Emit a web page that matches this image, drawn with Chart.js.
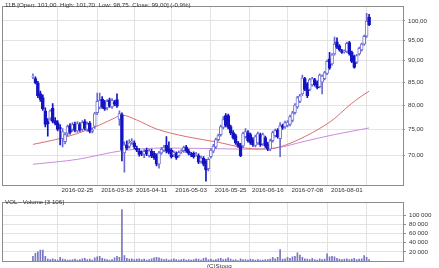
<!DOCTYPE html>
<html>
<head>
<meta charset="utf-8">
<script src="https://cdn.jsdelivr.net/npm/chart.js@4/dist/chart.umd.min.js"></script>
<style>
  body { margin: 0; background: #fff; width: 439px; height: 268px; overflow: hidden; position: relative; }
  canvas { position: absolute; left: 0; }
  .lbl { position: absolute; font: 6.2px "Liberation Sans", Arial, sans-serif; color: #333; white-space: pre; line-height: 8px; }
</style>
</head>
<body>
<canvas id="price" width="439" height="197" style="top:0"></canvas>
<canvas id="volume" width="439" height="72" style="top:196px"></canvas>
<div class="lbl" style="left:5px;top:1px">11B [Open: 101,00  High: 101,70  Low: 98,75  Close: 99,00] (-0,9%)</div>
<div class="lbl" style="left:5px;top:198px">VOL - Volume [3 106]</div>
<div class="lbl" style="left:207px;top:262px">(C)Stooq</div>
<script>
// trading days Feb 1 - Aug 12 2016 (weekdays, exchange holidays removed)
const holidays = ['2016-03-25', '2016-03-28', '2016-05-26'];
const dates = [];
for (let d = new Date(Date.UTC(2016, 1, 1)); d <= new Date(Date.UTC(2016, 7, 12)); d.setUTCDate(d.getUTCDate() + 1)) {
    const s = d.toISOString().slice(0, 10);
    if (d.getUTCDay() !== 0 && d.getUTCDay() !== 6 && !holidays.includes(s)) dates.push(s);
}
const tickDates = ['2016-02-25', '2016-03-18', '2016-04-11', '2016-05-03', '2016-05-25', '2016-06-16', '2016-07-08', '2016-08-01'];
const priceTicks = [70, 75, 80, 85, 90, 95, 100];
const volumeTicks = [20000, 40000, 60000, 80000, 100000];

const open = [
  86.2, 85.8, 84.8, 82.5, 81.6, 78.8, 76.6, 77.3, 79.3, 76.8,
  76.4, 75.4, 73.2, 72.6, 74.2, 75.8, 75.0, 76.1, 74.7, 76.0,
  75.0, 76.6, 75.0, 76.3, 74.6, 75.6, 78.4, 79.5, 81.3, 80.6,
  79.4, 81.1, 79.6, 80.7, 81.2, 77.0, 78.0, 70.5, 72.0, 71.7,
  72.5, 72.4, 71.4, 70.9, 70.5, 70.2, 71.0, 70.0, 70.8, 70.4,
  70.0, 68.4, 70.5, 71.0, 71.9, 71.3, 71.0, 70.1, 70.4, 70.0,
  70.7, 70.9, 71.6, 70.9, 70.3, 70.4, 70.1, 70.0, 68.9, 69.5,
  69.0, 67.6, 69.8, 70.8, 71.6, 73.0, 74.0, 75.4, 77.8, 77.8,
  75.6, 74.4, 73.8, 72.4, 72.0, 71.8, 73.6, 74.4, 74.0, 73.0,
  71.9, 72.4, 74.0, 72.2, 73.4, 72.2, 71.2, 72.8, 73.8, 74.9,
  73.2, 75.8, 75.5, 75.8, 76.0, 76.8, 78.4, 79.6, 80.8, 82.4,
  85.8, 84.6, 83.4, 84.4, 85.6, 85.0, 84.0, 85.0, 85.8, 87.0,
  90.4, 89.2, 91.6, 94.6, 93.6, 92.4, 92.1, 92.2, 94.4, 92.0,
  91.0, 89.6, 91.6, 92.6, 94.0, 96.0, 101.0
];
const high = [
  86.9, 86.2, 85.2, 83.0, 82.2, 79.4, 77.2, 79.0, 80.3, 77.4,
  76.8, 76.0, 75.2, 74.4, 75.9, 76.2, 76.4, 76.5, 76.6, 76.4,
  76.8, 77.0, 76.5, 76.6, 75.3, 78.5, 82.6, 82.6, 81.8, 81.0,
  81.2, 81.5, 81.4, 81.0, 82.4, 78.8, 78.4, 72.6, 72.8, 73.0,
  73.2, 72.8, 71.8, 71.3, 70.9, 71.1, 71.4, 71.2, 71.2, 70.8,
  70.3, 70.8, 71.5, 71.9, 73.6, 72.6, 71.3, 70.9, 70.7, 70.9,
  71.1, 71.8, 71.9, 71.2, 70.6, 70.7, 70.6, 70.3, 69.9, 69.8,
  69.3, 69.6, 71.3, 72.1, 73.3, 74.1, 75.9, 77.6, 78.2, 78.1,
  75.9, 74.8, 74.1, 72.7, 72.3, 74.5, 75.2, 74.8, 74.3, 73.4,
  73.9, 74.5, 74.3, 74.3, 73.7, 72.5, 73.1, 74.7, 75.1, 75.2,
  76.4, 76.1, 76.7, 76.8, 77.9, 78.7, 80.3, 81.9, 82.3, 86.6,
  86.1, 84.9, 85.9, 86.1, 85.9, 85.3, 86.9, 86.7, 87.5, 90.1,
  92.0, 91.7, 95.8, 95.6, 93.9, 92.7, 92.6, 94.5, 94.7, 92.3,
  91.3, 91.5, 93.3, 94.3, 96.3, 102.0, 101.7
];
const low = [
  85.8, 84.6, 81.6, 80.8, 78.9, 75.5, 73.7, 76.8, 76.3, 75.9,
  74.7, 72.0, 71.6, 72.2, 73.8, 74.1, 74.6, 74.5, 74.4, 74.6,
  74.7, 74.9, 74.6, 74.3, 74.3, 75.2, 78.0, 79.2, 79.3, 78.9,
  79.0, 79.5, 79.3, 79.9, 79.5, 75.8, 69.0, 67.0, 71.1, 71.4,
  72.1, 71.3, 70.7, 69.9, 70.0, 69.6, 70.0, 69.7, 69.6, 69.3,
  68.1, 67.7, 70.2, 70.7, 70.5, 70.3, 69.5, 69.8, 69.3, 69.7,
  70.4, 70.6, 70.6, 70.1, 69.8, 69.5, 69.9, 68.5, 68.6, 68.1,
  65.4, 67.2, 69.5, 70.5, 71.3, 72.7, 73.7, 75.1, 75.5, 75.1,
  74.0, 73.1, 72.1, 71.5, 69.8, 71.5, 73.3, 72.5, 72.1, 71.7,
  71.6, 72.1, 71.7, 71.9, 71.5, 70.9, 70.9, 72.5, 73.5, 73.3,
  69.8, 75.0, 75.2, 75.5, 75.7, 76.5, 78.1, 79.3, 80.5, 82.1,
  83.1, 81.6, 83.1, 84.1, 84.1, 83.5, 83.7, 82.4, 85.5, 86.7,
  87.9, 88.9, 91.3, 92.9, 92.3, 91.7, 91.8, 91.9, 91.3, 89.5,
  88.2, 89.3, 91.3, 92.3, 93.7, 95.7, 98.75
];
const close = [
  86.3, 84.9, 82.0, 81.2, 79.2, 76.0, 76.1, 78.8, 76.6, 76.2,
  75.0, 75.2, 74.6, 74.0, 75.6, 74.4, 76.0, 74.8, 76.2, 74.9,
  76.4, 75.2, 76.1, 74.6, 74.9, 78.2, 80.8, 81.0, 79.6, 79.2,
  80.8, 79.8, 81.0, 80.2, 79.8, 78.2, 71.0, 72.0, 71.4, 72.4,
  72.7, 71.6, 71.0, 70.2, 70.4, 70.8, 70.3, 70.9, 69.9, 69.6,
  68.4, 70.5, 71.2, 71.6, 70.8, 70.6, 69.8, 70.6, 69.6, 70.6,
  70.8, 71.5, 70.9, 70.4, 70.1, 69.8, 70.2, 68.8, 69.6, 68.4,
  67.4, 69.3, 71.0, 71.8, 73.0, 73.8, 75.6, 77.0, 75.8, 75.4,
  74.3, 73.4, 72.4, 71.8, 70.0, 74.2, 74.6, 72.8, 72.4, 72.0,
  73.6, 74.2, 72.0, 74.0, 71.8, 71.2, 72.8, 74.4, 74.8, 73.6,
  75.8, 75.4, 76.4, 76.5, 77.6, 78.4, 80.0, 81.6, 82.0, 86.0,
  83.4, 82.0, 85.6, 85.8, 84.4, 83.8, 86.6, 86.4, 87.2, 89.8,
  88.2, 91.4, 94.0, 93.2, 92.6, 92.0, 92.3, 94.2, 91.6, 89.8,
  88.4, 91.2, 93.0, 94.0, 96.0, 99.9, 99.0
];
const volume = [
  10000, 17000, 20000, 24000, 24000, 10000, 4000, 3000, 5000, 3000,
  2000, 8000, 4000, 3000, 2000, 2000, 3000, 4000, 2000, 3000,
  5000, 6000, 3000, 4000, 2000, 7000, 9000, 10000, 6000, 4000,
  3000, 2000, 3000, 7000, 10000, 8000, 113000, 12000, 6000, 4000,
  5000, 3000, 4000, 5000, 3000, 4000, 2000, 3000, 5000, 7000,
  8000, 7000, 5000, 3000, 4000, 2000, 3000, 5000, 3000, 2000,
  3000, 4000, 2000, 3000, 2000, 3000, 5000, 4000, 2000, 6000,
  7000, 3000, 4000, 2000, 3000, 5000, 6000, 3000, 4000, 7000,
  4000, 2000, 3000, 1000, 5000, 3000, 3000, 2000, 4000, 3000,
  2000, 3000, 2000, 2000, 3000, 3000, 4000, 8000, 5000, 8000,
  25000, 4000, 5000, 8000, 6000, 9000, 10000, 18000, 13000, 8000,
  5000, 4000, 3000, 6000, 3000, 2000, 5000, 3000, 4000, 16000,
  9000, 10000, 9000, 6000, 4000, 3000, 4000, 5000, 3000, 4000,
  6000, 3000, 4000, 5000, 12000, 8000, 3106
];
// moving averages at a few days: [day index, price]
const maRed = [[0, 72.1], [9, 73.0], [18, 74.2], [27, 75.9], [33, 77.3], [36, 77.9], [42, 76.9], [50, 75.1],
  [62, 73.6], [75, 72.5], [86, 71.4], [93, 71.2], [98, 71.4], [104, 72.3], [110, 73.6], [116, 75.2],
  [122, 77.2], [127, 79.5], [131, 81.2], [136, 83.0]];
const maViolet = [[0, 68.4], [18, 69.3], [36, 70.9], [53, 71.4], [73, 71.3], [86, 71.2], [98, 71.4],
  [110, 72.7], [122, 74.0], [136, 75.3]];

Chart.defaults.font.family = '"Liberation Sans", Arial, sans-serif';
Chart.defaults.font.size = 6.2;
Chart.defaults.color = '#333';
Chart.defaults.animation = false;

const tickIdx = tickDates.map(d => dates.indexOf(d));
const gridColor = '#e3e3e3';
const up = close.map((c, i) => c >= open[i]);

const boxPlugin = {
    id: 'box',
    afterDraw(chart) {
	const a = chart.chartArea, ctx = chart.ctx;
	ctx.save();
	ctx.strokeStyle = '#8c8c8c';
	ctx.lineWidth = 1;
	ctx.strokeRect(Math.round(a.left) - 0.5, Math.round(a.top) - 0.5, Math.round(a.right - a.left) + 1, Math.round(a.bottom - a.top) + 1);
	ctx.restore();
    }
};

const xScale = (showLabels, height) => ({
    type: 'linear',
    min: -2,
    max: 139.6,
    afterBuildTicks: s => { s.ticks = tickIdx.map(v => ({ value: v })); },
    afterFit: s => { s.height = height; },
    ticks: { display: showLabels, padding: 2, autoSkip: false, maxRotation: 0, callback: v => dates[v] },
    grid: { color: gridColor, drawTicks: false },
    border: { display: false }
});

new Chart(document.getElementById('price'), {
    type: 'bar',
    data: {
	datasets: [
	    {
		type: 'bar',
		data: low.map((l, i) => ({ x: i, y: [l, high[i]] })),
		backgroundColor: up.map(u => u ? '#6a6ad2' : '#1414c4'),
		barThickness: 1,
		grouped: false,
		order: 2
	    },
	    {
		type: 'bar',
		data: open.map((o, i) => ({ x: i, y: [o, close[i]] })),
		backgroundColor: up.map(u => u ? '#ffffff' : '#1414c4'),
		borderColor: up.map(u => u ? '#7070d4' : '#1414c4'),
		borderWidth: 1,
		borderSkipped: false,
		barThickness: 3,
		grouped: false,
		order: 1
	    },
	    {
		type: 'line',
		data: maRed.map(p => ({ x: p[0], y: p[1] })),
		borderColor: '#d9706e',
		borderWidth: 1,
		pointRadius: 0,
		cubicInterpolationMode: 'monotone',
		order: 3
	    },
	    {
		type: 'line',
		data: maViolet.map(p => ({ x: p[0], y: p[1] })),
		borderColor: '#c68ce0',
		borderWidth: 1,
		pointRadius: 0,
		cubicInterpolationMode: 'monotone',
		order: 4
	    }
	]
    },
    options: {
	responsive: false,
	layout: { padding: { left: 3, top: 1, right: 0, bottom: 0 } },
	plugins: { legend: { display: false }, tooltip: { enabled: false } },
	scales: {
	    x: xScale(true, 12),
	    y: {
		type: 'logarithmic',
		position: 'right',
		min: 64.75,
		max: 103.8,
		bounds: 'data',
		afterBuildTicks: s => { s.ticks = priceTicks.map(v => ({ value: v })); },
		afterFit: s => { s.width = 36; },
		ticks: { padding: 3, callback: v => v.toFixed(2).replace('.', ',') },
		grid: { color: gridColor, tickLength: 2, tickColor: '#8c8c8c' },
		border: { display: false }
	    }
	}
    },
    plugins: [boxPlugin]
});

new Chart(document.getElementById('volume'), {
    type: 'bar',
    data: {
	datasets: [{
	    data: volume.map((v, i) => ({ x: i, y: v })),
	    backgroundColor: '#7878c0',
	    barThickness: 1
	}]
    },
    options: {
	responsive: false,
	layout: { padding: { left: 3, top: 1, right: 0, bottom: 0 } },
	plugins: { legend: { display: false }, tooltip: { enabled: false } },
	scales: {
	    x: xScale(false, 7),
	    y: {
		position: 'right',
		min: 0,
		max: 128000,
		afterBuildTicks: s => { s.ticks = volumeTicks.map(v => ({ value: v })); },
		afterFit: s => { s.width = 36; },
		ticks: { padding: 3, callback: v => (v / 1000) + ' 000' },
		grid: { color: gridColor, tickLength: 3, tickColor: '#8c8c8c' },
		border: { display: false }
	    }
	}
    },
    plugins: [boxPlugin]
});
</script>
</body>
</html>
